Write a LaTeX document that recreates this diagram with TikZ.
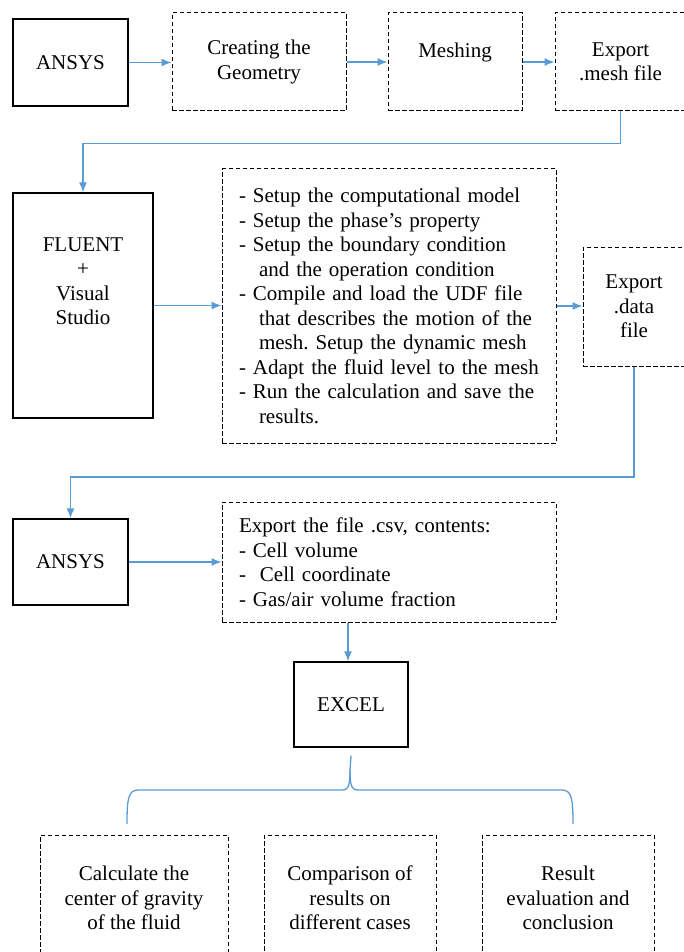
\documentclass[tikz,border=0pt]{standalone}
\usepackage{fontspec}
\setmainfont{Liberation Serif}
\usepackage{tikz}
\usetikzlibrary{positioning}
\usetikzlibrary{arrows.meta}
\definecolor{flowblue}{RGB}{91,155,213}
\tikzstyle{tool}=[draw,line width=1.3,inner sep=0,align=center]
\tikzstyle{task}=[draw,line width=1.0,dash pattern=on 4.5pt off 2.5pt,inner sep=0,align=center]
\tikzset{>={Latex[length=10pt,width=8pt]}}
\tikzstyle{flow}=[->,flowblue,line width=1.3]
\frenchspacing

\begin{document}
\begin{tikzpicture}[x=1pt,y=-1pt,font=\fontsize{21}{24.5}\selectfont]
\useasboundingbox (0,0) rectangle (683,952);

% First row
\node[tool,minimum width=115pt,minimum height=87pt] (ansysA) at (70.5,62.5) {ANSYS};
\node[task,minimum width=174pt,minimum height=98pt] (geom) at (259,62) {Creating the\\Geometry};
\node[task,minimum width=134pt,minimum height=98pt] (mesh) at (455,62) {Meshing\\~};
\node[task,minimum width=131pt,minimum height=98pt] (expA) at (620.5,62) {Export\\.mesh file};

\draw[flow] (ansysA.east) -- (ansysA.east -| geom.west);
\draw[flow] (geom.east) -- (geom.east -| mesh.west);
\draw[flow] (mesh.east) -- (mesh.east -| expA.west);

% Second row
\node[tool,minimum width=140pt,minimum height=225pt] (fluent) at (83,305.5) {FLUENT\\+\\Visual\\Studio\\~\\~};
\node[task,text width=300pt,inner xsep=17pt,minimum height=274pt,align=left] (setup) at (389,306) {%
- Setup the computational model\\
- Setup the phase’s property\\
- Setup the boundary condition\\
\hspace*{20pt}and the operation condition\\
- Compile and load the UDF file\\
\hspace*{20pt}that describes the motion of the\\
\hspace*{20pt}mesh. Setup the dynamic mesh\\
- Adapt the fluid level to the mesh\\
- Run the calculation and save the\\
\hspace*{20pt}results.};
\node[task,minimum width=102pt,minimum height=119pt] (expB) at (634,306.5) {Export\\.data\\file};

% Down to Fluent
\draw[flow] (expA.south) -- ++(0,32) -| (fluent.north);

\draw[flow] (fluent.east) -- (fluent.east -| setup.west);
\draw[flow] (setup.east) -- (setup.east -| expB.west);

% Third row
\node[tool,minimum width=115pt,minimum height=86pt] (ansysB) at (70.5,562) {ANSYS};
\node[task,text width=300pt,inner xsep=17pt,minimum height=120pt,align=left] (csv) at (389,562) {%
Export the file .csv, contents:\\
- Cell volume\\
-~~Cell coordinate\\
- Gas/air volume fraction};

% Down to Ansys
\draw[flow] (expB.south) -- ++(0,110.5) -| (ansysB.north);

\draw[flow] (ansysB.east) -- (ansysB.east -| csv.west);

% Excel
\node[tool,minimum width=114pt,minimum height=85pt] (excel) at (351,704.5) {EXCEL};
\draw[flow] ([xshift=-3pt]csv.south -| excel.north) -- ([xshift=-3pt]excel.north);

% Brace
\coordinate (brtop) at ([yshift=-8pt]excel.south);
\draw[flowblue,line width=1.3] (127,824) .. controls (127,800) and (128,790) .. (138,790)
  -- (342,790) .. controls (349,790) and (350,784) .. (350,770) -- (brtop);
\draw[flowblue,line width=1.3] (573,824) .. controls (573,800) and (572,790) .. (562,790)
  -- (358,790) .. controls (351,790) and (350,784) .. (350,770);

% Bottom row
\node[task,minimum width=188pt,minimum height=126pt] (calc) at (134,898) {Calculate the\\center of gravity\\of the fluid};
\node[task,minimum width=172pt,minimum height=126pt] (comp) at (350,898) {Comparison of\\results on\\different cases};
\node[task,minimum width=172pt,minimum height=126pt] (result) at (568,898) {Result\\evaluation and\\conclusion};

\end{tikzpicture}
\end{document}
